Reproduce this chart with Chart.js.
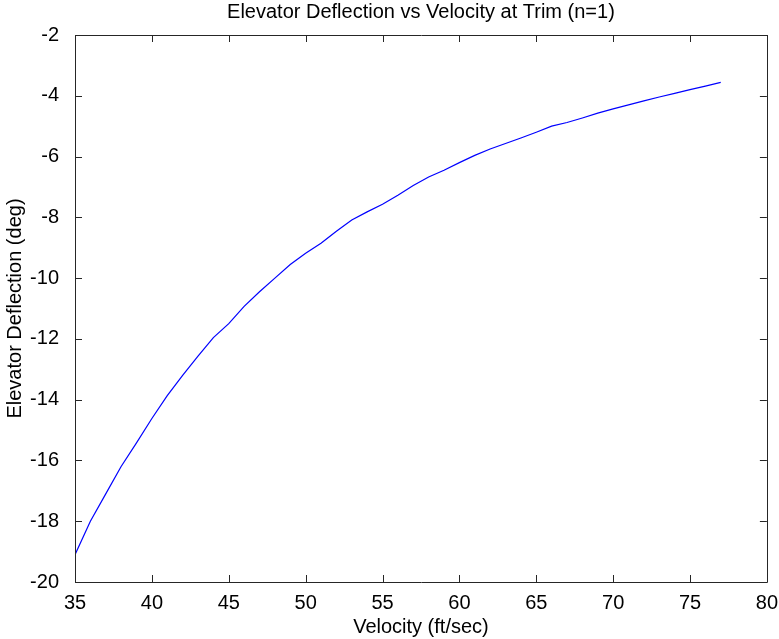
<!DOCTYPE html>
<html>
<head>
<meta charset="utf-8">
<title>Elevator Deflection vs Velocity at Trim</title>
<script src="https://cdn.jsdelivr.net/npm/chart.js@4.4.1/dist/chart.umd.min.js"></script>
<style>
    body { margin: 0; background: #ffffff; }
    #chart-box { width: 779px; height: 639px; }
</style>
</head>
<body>
<div id="chart-box"><canvas id="deflexao" width="779" height="639"></canvas></div>
<script>
// velocidades (ft/sec) e deflexao do profundor (deg)
const velocidades = [35, 36, 37, 38, 39, 40, 41, 42, 43, 44, 45, 46, 47, 48, 49, 50, 51, 52, 53, 54, 55, 56,
    57, 58, 59, 60, 61, 62, 63, 64, 65, 66, 67, 68, 69, 70, 71, 72, 73, 74, 75, 76, 77];
const deflexoes = [-19.1, -18.0, -17.1, -16.2, -15.42, -14.62, -13.87, -13.2, -12.57, -11.96, -11.5, -10.93,
    -10.45, -10.0, -9.55, -9.18, -8.85, -8.46, -8.09, -7.82, -7.57, -7.27, -6.95, -6.67, -6.45, -6.2,
    -5.96, -5.75, -5.57, -5.39, -5.2, -5.0, -4.88, -4.73, -4.57, -4.43, -4.3, -4.17, -4.04, -3.92,
    -3.8, -3.68, -3.56];
const xTicks = [35, 40, 45, 50, 55, 60, 65, 70, 75, 80];
const yTicks = [-20, -18, -16, -14, -12, -10, -8, -6, -4, -2];

const titulo = 'Elevator Deflection vs Velocity at Trim (n=1)';
const tituloX = 'Velocity (ft/sec)';
const tituloY = 'Elevator Deflection (deg)';

const fonte = { family: "'Liberation Sans', Arial, sans-serif", size: 20 };
const corEixo = '#262626';

// desenha a caixa do grafico com os tracos para dentro (estilo matlab)
const caixaPlugin = {
    id: 'caixa',
    afterDatasetsDraw(chart) {
        const ctx = chart.ctx;
        const area = chart.chartArea;
        const sx = chart.scales.x;
        const sy = chart.scales.y;
        const tam = 7;
        ctx.save();
        ctx.strokeStyle = corEixo;
        ctx.lineWidth = 1;
        ctx.beginPath();
        ctx.rect(Math.round(area.left) + 0.5, Math.round(area.top) + 0.5,
            Math.round(area.right - area.left), Math.round(area.bottom - area.top));
        sx.ticks.forEach(t => {
            const px = Math.round(sx.getPixelForValue(t.value)) + 0.5;
            ctx.moveTo(px, area.bottom);
            ctx.lineTo(px, area.bottom - tam);
            ctx.moveTo(px, area.top);
            ctx.lineTo(px, area.top + tam);
        });
        sy.ticks.forEach(t => {
            const py = Math.round(sy.getPixelForValue(t.value)) + 0.5;
            ctx.moveTo(area.left, py);
            ctx.lineTo(area.left + tam, py);
            ctx.moveTo(area.right, py);
            ctx.lineTo(area.right - tam, py);
        });
        ctx.stroke();
        ctx.restore();
    }
};

const pontos = velocidades.map((v, i) => ({ x: v, y: deflexoes[i] }));

new Chart(document.getElementById('deflexao').getContext('2d'), {
    type: 'line',
    data: {
        datasets: [{
            label: tituloY,
            data: pontos,
            borderColor: '#0000ff',
            borderWidth: 1.2,
            pointRadius: 0,
            tension: 0,
            fill: false
        }]
    },
    options: {
        responsive: false,
        animation: false,
        layout: { padding: { left: 0, right: 0, top: 0, bottom: 0 } },
        plugins: {
            legend: { display: false },
            tooltip: { enabled: false },
            title: {
                display: true,
                text: titulo,
                fullSize: false,
                color: '#000000',
                font: { family: fonte.family, size: 20, weight: 'normal' },
                padding: { top: 0, bottom: 11 }
            }
        },
        scales: {
            x: {
                type: 'linear',
                min: 35,
                max: 80,
                afterBuildTicks: scale => { scale.ticks = xTicks.map(v => ({ value: v })); },
                afterFit: scale => { scale.height = 57; },
                grid: { display: false },
                border: { display: false },
                ticks: { color: '#000000', font: fonte, padding: 1, autoSkip: false, maxRotation: 0 },
                title: { display: true, text: tituloX, color: '#000000', font: fonte, padding: { top: 0, bottom: 0 } }
            },
            y: {
                type: 'linear',
                min: -20,
                max: -2,
                afterBuildTicks: scale => { scale.ticks = yTicks.map(v => ({ value: v })); },
                afterFit: scale => { scale.width = 75; },
                grid: { display: false },
                border: { display: false },
                ticks: { color: '#000000', font: fonte, padding: 8, autoSkip: false },
                title: { display: true, text: tituloY, color: '#000000', font: fonte, padding: { top: 3, bottom: 0 } }
            }
        }
    },
    plugins: [caixaPlugin]
});
</script>
</body>
</html>
